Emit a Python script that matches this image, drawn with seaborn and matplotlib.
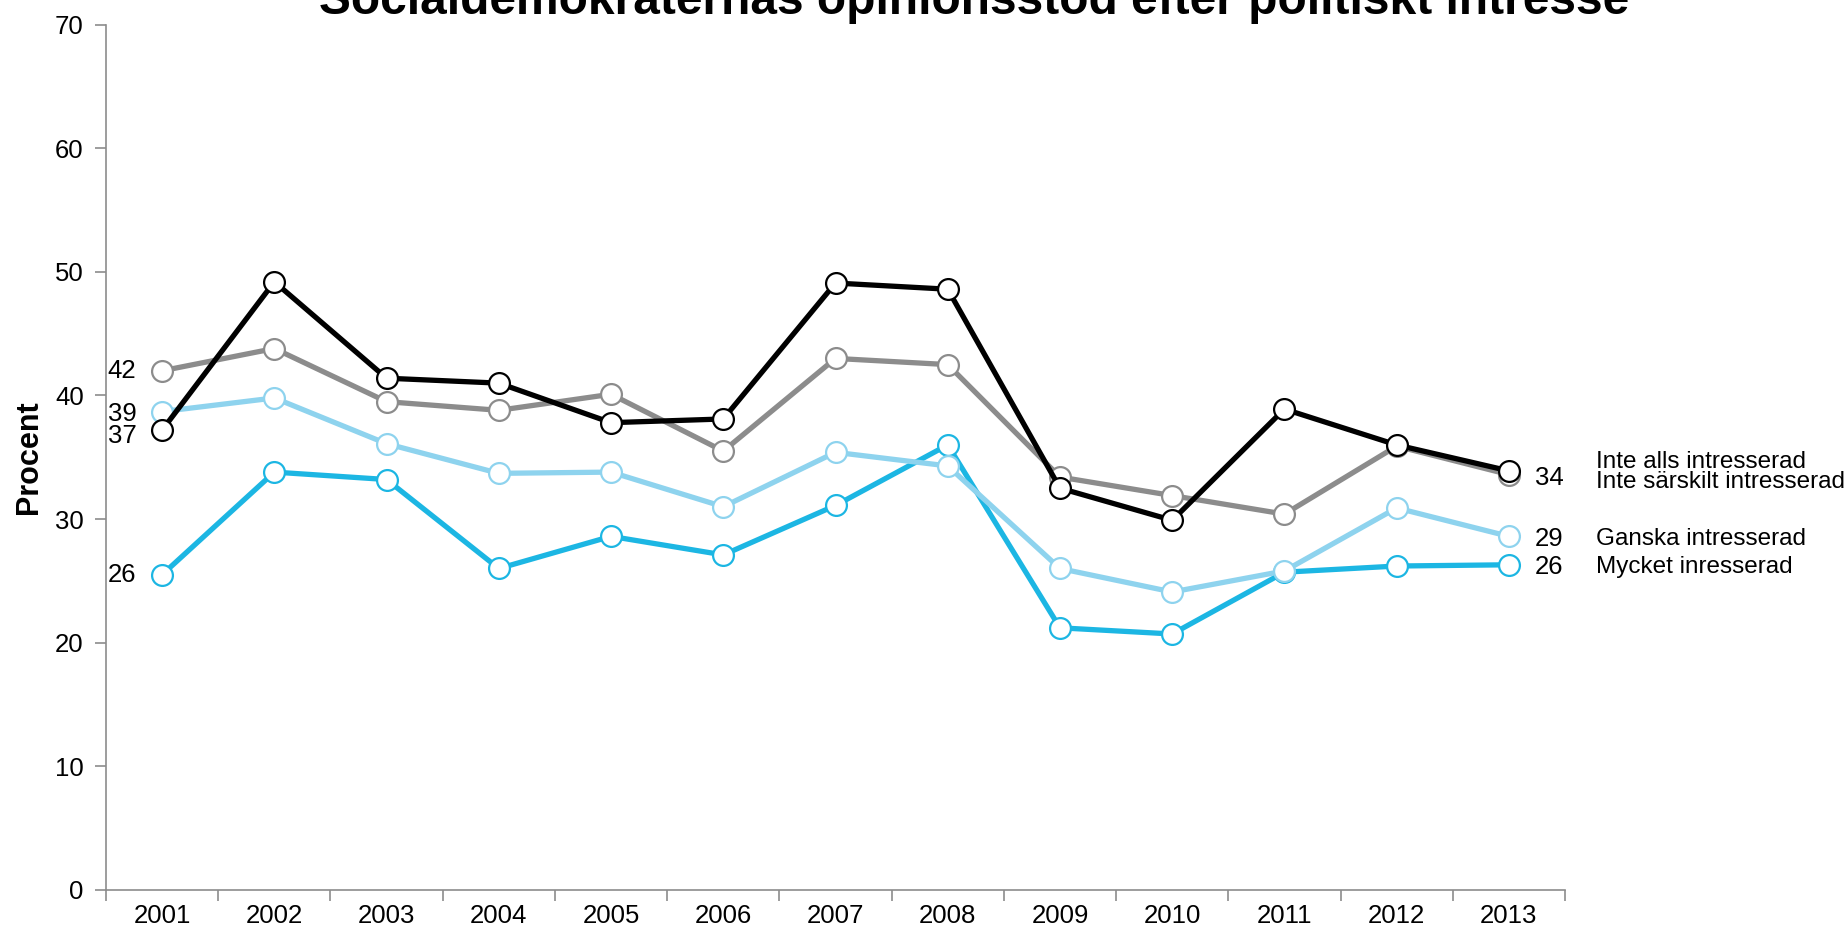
import matplotlib
matplotlib.use("Agg")
import matplotlib.pyplot as plt
import seaborn as sns
import pandas as pd
import numpy as np

years = ["2001", "2002", "2003", "2004", "2005", "2006", "2007", "2008", "2009", "2010", "2011", "2012", "2013"]
inte_alls = [37.2, 49.2, 41.4, 41.0, 37.8, 38.1, 49.1, 48.6, 32.5, 29.9, 38.9, 36.0, 33.9]
inte_sarskilt = [42.0, 43.8, 39.5, 38.8, 40.1, 35.5, 43.0, 42.5, 33.4, 31.9, 30.4, 35.9, 33.6]
ganska = [38.7, 39.8, 36.1, 33.7, 33.8, 31.0, 35.4, 34.3, 26.0, 24.1, 25.8, 30.9, 28.6]
mycket = [25.5, 33.8, 33.2, 26.0, 28.6, 27.1, 31.1, 36.0, 21.2, 20.7, 25.7, 26.2, 26.3]
series_names = ["Mycket inresserad", "Ganska intresserad", "Inte särskilt intresserad", "Inte alls intresserad"]
colors = ["#1cb6e3", "#8ed3ee", "#8c8c8c", "#000000"]
title = "Socialdemokraternas opinionsstöd efter politiskt intresse"
ylabel = "Procent"

sns.set_theme(style="white")
plt.rcParams['font.family'] = ['Liberation Sans', 'DejaVu Sans']
plt.rcParams['text.color'] = 'black'
plt.rcParams['xtick.color'] = 'black'
plt.rcParams['ytick.color'] = 'black'
plt.rcParams['axes.labelcolor'] = 'black'

fig = plt.figure(figsize=(18.48, 9.33), dpi=100)
ax = fig.add_axes([106/1848, 1-889.8/933, (1565-106)/1848, (889.8-24.75)/933])

x = np.arange(len(years))
all_series = [mycket, ganska, inte_sarskilt, inte_alls]
for vals, name, col in zip(all_series, series_names, colors):
    df = pd.DataFrame({"x": x, "y": vals})
    sns.lineplot(data=df, x="x", y="y", ax=ax, color=col, linewidth=3.8,
                 marker="o", markersize=15, markerfacecolor="white",
                 markeredgecolor=col, markeredgewidth=1.6, label=None)

ax.set_xlim(-0.5, len(years) - 0.5)
ax.set_ylim(0, 70)
ax.set_yticks(np.arange(0, 71, 10))
ax.set_xticks(np.arange(-0.5, len(years), 1.0))
ax.set_xticklabels([])
ax.set_xticks(x, minor=True)
ax.set_xticklabels(years, minor=True)
ax.tick_params(axis="x", which="major", length=8, width=1.2, color="#8c8c8c", direction="out", bottom=True)
ax.tick_params(axis="x", which="minor", length=0, labelsize=18.5, pad=10, bottom=True, labelcolor="black")
ax.tick_params(axis="y", which="major", length=8, width=1.2, color="#8c8c8c", direction="out", labelsize=18.5, left=True, pad=8, labelcolor="black")
for s in ["top", "right"]:
    ax.spines[s].set_visible(False)
for s in ["left", "bottom"]:
    ax.spines[s].set_color("#8c8c8c")
    ax.spines[s].set_linewidth(1.2)
ax.set_xlabel("")
ax.set_ylabel(ylabel, fontsize=22, fontweight="bold", labelpad=8)
if ax.get_legend():
    ax.get_legend().remove()

# left value labels
left_nudge = {"Mycket inresserad": 0, "Ganska intresserad": -0.2, "Inte särskilt intresserad": 0, "Inte alls intresserad": -0.5}
for vals, name in zip(all_series, series_names):
    ax.text(-0.23, vals[0] + left_nudge[name], f"{round(vals[0]):.0f}", ha="right", va="center", fontsize=18.5, clip_on=False)

# right labels
right_nudge = {"Mycket inresserad": -0.2, "Ganska intresserad": -0.2, "Inte särskilt intresserad": -0.6, "Inte alls intresserad": 0.7}
for vals, name in zip(all_series, series_names):
    if name != "Inte alls intresserad":
        ax.text(12.23, vals[-1] + right_nudge[name] + (0.3 if name == "Inte särskilt intresserad" else 0),
                f"{round(vals[-1]):.0f}", ha="left", va="center", fontsize=18.5, clip_on=False)
    ax.text(12.78, vals[-1] + right_nudge[name], name, ha="left", va="center", fontsize=17.5, clip_on=False)

fig.text(0.527, 0.985, title, ha="center", va="baseline", fontsize=34.5, fontweight="bold")

fig.savefig("out.png", dpi=100)
